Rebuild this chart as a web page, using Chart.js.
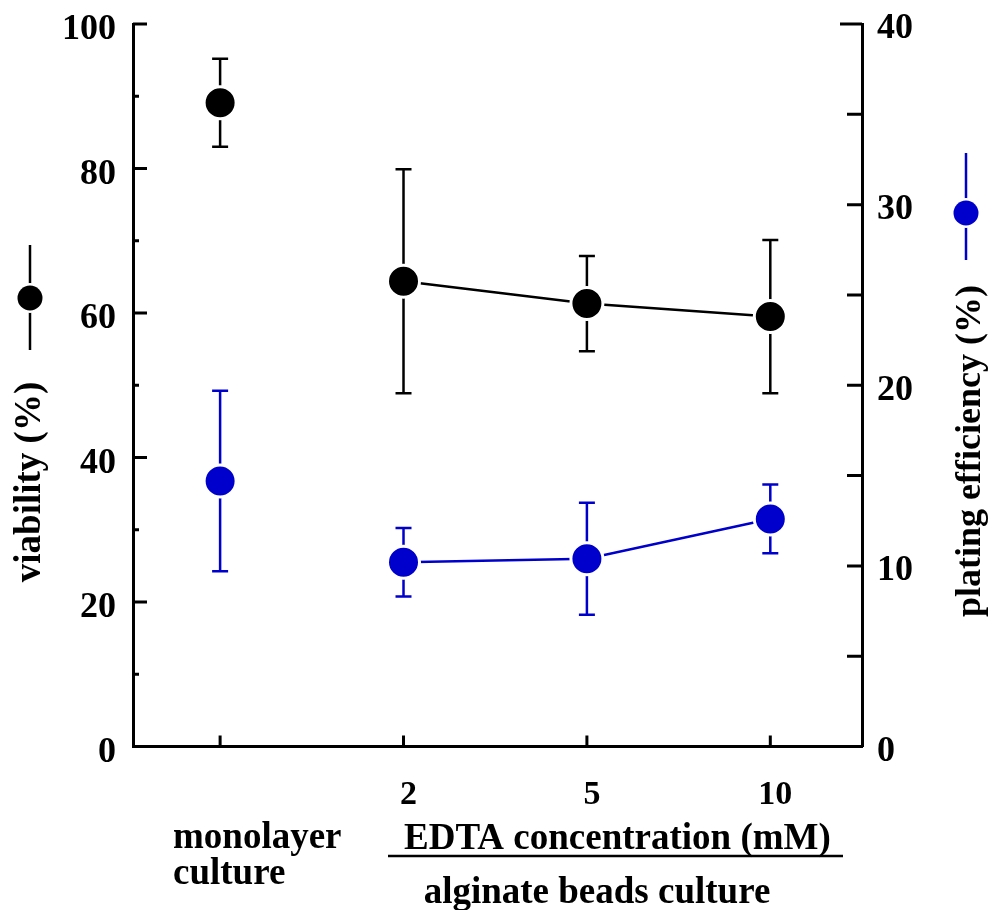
<!DOCTYPE html>
<html>
<head>
<meta charset="utf-8">
<script src="https://cdn.jsdelivr.net/npm/chart.js@4.4.0/dist/chart.umd.min.js"></script>
<style>
  html, body { margin: 0; padding: 0; background: #fff; }
  #wrap { width: 991px; height: 910px; }
</style>
</head>
<body>
<div id="wrap"><canvas id="chart" width="991" height="910"></canvas></div>
<script>
"use strict"

// x positions: monolayer culture, then EDTA 2 / 5 / 10 mM (alginate beads)
const xPos = [0, 1, 2, 3];
const xTickLabels = ['', '2', '5', '10'];

// viability (%) - left axis
const viability = [89.1, 64.4, 61.3, 59.5];
const viabilitySd = [6.1, 15.5, 6.6, 10.6];

// plating efficiency (%) - right axis
const plating = [14.7, 10.2, 10.4, 12.6];
const platingSd = [5.0, 1.9, 3.1, 1.9];

const BLUE = '#0000cc';
const FONT = "'Liberation Serif', 'Times New Roman', serif";

function toPoints(vals) {
    return xPos.map((x, i) => ({ x: x, y: vals[i] }));
}

// no extra room for half labels at the ends of the axes
function noPad(s) {
    s.paddingTop = 0;
    s.paddingBottom = 0;
    s.paddingLeft = 0;
    s.paddingRight = 0;
}

// error bars under the markers
const errorBars = {
    id: 'errorBars',
    beforeDatasetsDraw(chart) {
        const ctx = chart.ctx;
        const xs = chart.scales.x;
        chart.data.datasets.forEach(ds => {
            const ys = chart.scales[ds.yAxisID];
            ctx.save();
            ctx.strokeStyle = ds.borderColor;
            ctx.lineWidth = 2.5;
            ds.data.forEach((p, i) => {
                const px = xs.getPixelForValue(p.x);
                const top = ys.getPixelForValue(p.y + ds.sd[i]);
                const bot = ys.getPixelForValue(p.y - ds.sd[i]);
                ctx.beginPath();
                ctx.moveTo(px, top); ctx.lineTo(px, bot);
                ctx.moveTo(px - 8, top); ctx.lineTo(px + 8, top);
                ctx.moveTo(px - 8, bot); ctx.lineTo(px + 8, bot);
                ctx.stroke();
            });
            ctx.restore();
        });
    }
};

// inward tick marks, axis titles with their marker keys, the bottom captions
const decorations = {
    id: 'decorations',
    afterDraw(chart) {
        const ctx = chart.ctx;
        const area = chart.chartArea;
        const yl = chart.scales.y;
        const yr = chart.scales.y2;
        const xs = chart.scales.x;
        ctx.save();
        ctx.strokeStyle = '#000';
        ctx.lineWidth = 3;
        ctx.beginPath();
        for (let v = 0; v <= 100; v += 10) {
            const py = yl.getPixelForValue(v);
            ctx.moveTo(area.left, py);
            ctx.lineTo(area.left + (v % 20 === 0 ? 14 : 6), py);
        }
        for (let v = 0; v <= 40; v += 5) {
            const py = yr.getPixelForValue(v);
            ctx.moveTo(area.right, py);
            ctx.lineTo(area.right - (v === 40 ? 22 : 15), py);
        }
        xPos.forEach(v => {
            const px = xs.getPixelForValue(v);
            ctx.moveTo(px, area.bottom);
            ctx.lineTo(px, area.bottom - 11);
        });
        ctx.stroke();

        // key markers next to the axis titles
        function key(x, y1, y2, cy, color) {
            ctx.strokeStyle = color;
            ctx.lineWidth = 2.5;
            ctx.beginPath();
            ctx.moveTo(x, y1); ctx.lineTo(x, y2);
            ctx.stroke();
            ctx.beginPath();
            ctx.arc(x, cy, 15, 0, Math.PI * 2);
            ctx.fillStyle = '#fff';
            ctx.fill();
            ctx.beginPath();
            ctx.arc(x, cy, 12.5, 0, Math.PI * 2);
            ctx.fillStyle = color;
            ctx.fill();
        }
        key(30, 245, 350, 298, '#000');
        key(966, 153, 260, 213, BLUE);

        ctx.fillStyle = '#000';
        ctx.textAlign = 'center';
        ctx.textBaseline = 'middle';
        ctx.font = 'bold 37px ' + FONT;
        ctx.save();
        ctx.translate(30, 482);
        ctx.rotate(-Math.PI / 2);
        ctx.fillText('viability (%)', 0, 0);
        ctx.restore();
        ctx.font = 'bold 36px ' + FONT;
        ctx.save();
        ctx.translate(971, 451);
        ctx.rotate(-Math.PI / 2);
        ctx.fillText('plating efficiency (%)', 0, 0);
        ctx.restore();

        ctx.font = 'bold 37px ' + FONT;
        ctx.textBaseline = 'alphabetic';
        ctx.textAlign = 'left';
        ctx.fillText('monolayer', 173, 848);
        ctx.fillText('culture', 173, 884);
        ctx.fillText('EDTA concentration (mM)', 404, 849);
        ctx.textAlign = 'center';
        ctx.fillText('alginate beads culture', 597, 903);
        ctx.lineWidth = 2.5;
        ctx.strokeStyle = '#000';
        ctx.beginPath();
        ctx.moveTo(388, 856); ctx.lineTo(843, 856);
        ctx.stroke();
        ctx.restore();
    }
};

const ctx = document.getElementById('chart');

let myChart = new Chart(ctx, {
    type: 'line',
    data: {
        datasets: [{
            label: 'viability (%)',
            data: toPoints(viability),
            sd: viabilitySd,
            yAxisID: 'y',
            borderColor: '#000',
            backgroundColor: '#000',
            borderWidth: 2.5,
            pointRadius: 16,
            pointBorderWidth: 3,
            pointBorderColor: '#fff',
            pointBackgroundColor: '#000',
            segment: { borderColor: c => c.p0DataIndex === 0 ? 'rgba(0,0,0,0)' : undefined }
        }, {
            label: 'plating efficiency (%)',
            data: toPoints(plating),
            sd: platingSd,
            yAxisID: 'y2',
            borderColor: BLUE,
            backgroundColor: BLUE,
            borderWidth: 2.5,
            pointRadius: 16,
            pointBorderWidth: 3,
            pointBorderColor: '#fff',
            pointBackgroundColor: BLUE,
            segment: { borderColor: c => c.p0DataIndex === 0 ? 'rgba(0,0,0,0)' : undefined }
        }]
    },
    options: {
        responsive: false,
        animation: false,
        devicePixelRatio: 1,
        layout: { padding: { top: 24, left: 0, right: 0, bottom: 0 } },
        plugins: {
            legend: { display: false },
            tooltip: { enabled: false },
            title: { display: false }
        },
        scales: {
            x: {
                type: 'linear',
                position: 'bottom',
                min: -0.475,
                max: 3.5,
                afterBuildTicks: s => { s.ticks = xPos.map(v => ({ value: v })); },
                afterFit: s => { s.height = 163.5; noPad(s); },
                grid: { display: false, drawTicks: false },
                border: { display: true, width: 3, color: '#000' },
                ticks: {
                    color: '#000',
                    font: { family: FONT, size: 34, weight: 'bold' },
                    padding: 28,
                    labelOffset: 5,
                    maxRotation: 0,
                    callback: (v, i) => xTickLabels[i]
                }
            },
            y: {
                position: 'left',
                min: 0,
                max: 100,
                afterFit: s => { s.width = 133; noPad(s); },
                grid: { display: false, drawTicks: false },
                border: { display: true, width: 3, color: '#000' },
                ticks: {
                    stepSize: 20,
                    color: '#000',
                    font: { family: FONT, size: 36, weight: 'bold' },
                    padding: 17,
                    labelOffset: 6
                }
            },
            y2: {
                position: 'right',
                min: 0,
                max: 40,
                afterFit: s => { s.width = 129; noPad(s); },
                grid: { display: false, drawTicks: false },
                border: { display: true, width: 3, color: '#000' },
                ticks: {
                    stepSize: 10,
                    color: '#000',
                    font: { family: FONT, size: 36, weight: 'bold' },
                    padding: 15,
                    labelOffset: 5
                }
            }
        }
    },
    plugins: [errorBars, decorations]
});
</script>
</body>
</html>
